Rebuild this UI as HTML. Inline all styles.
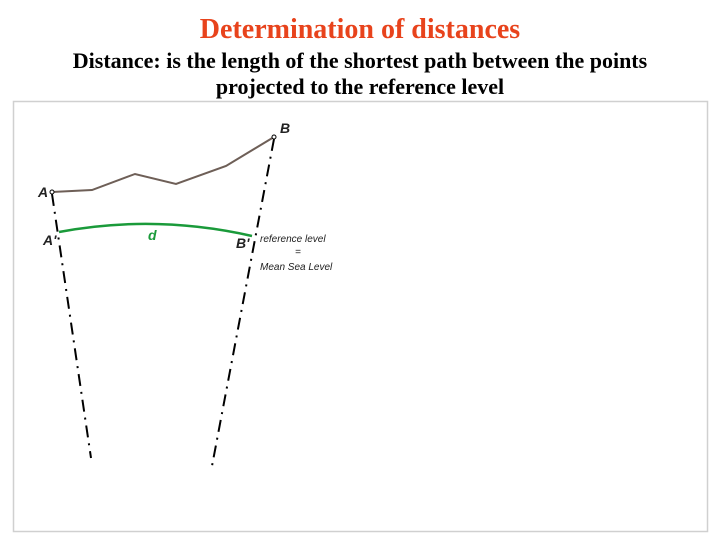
<!DOCTYPE html>
<html><head><meta charset="utf-8"><style>
body{margin:0;width:720px;height:540px;background:#fff;overflow:hidden;font-family:"Liberation Serif",serif}
.t{position:absolute;left:0;width:720px;text-align:center;font-weight:bold;white-space:nowrap}
</style></head><body>
<div class="t" style="top:14px;font-size:28px;line-height:32px;color:#e8431c">Determination of distances</div>
<div class="t" style="top:48px;font-size:22px;line-height:26px;color:#000">Distance: is the length of the shortest path between the points<br>projected to the reference level</div>
<svg width="720" height="540" style="position:absolute;left:0;top:0">
<rect x="13.5" y="101.5" width="694" height="430" fill="none" stroke="#d0d0d0" stroke-width="1.5"/>
<polyline points="52,192 92,190 135,174 176,184 226,166 274,137" fill="none" stroke="#6e5f57" stroke-width="2"/>
<line x1="52" y1="194" x2="91" y2="458" stroke="#000" stroke-width="2" stroke-dasharray="12,6,2,6"/>
<line x1="274" y1="139" x2="212" y2="466" stroke="#000" stroke-width="2" stroke-dasharray="12,6,2,6"/>
<path d="M59,232 Q155,214 252,236" fill="none" stroke="#1a9a3a" stroke-width="2.5"/>
<circle cx="52" cy="192" r="2" fill="#fff" stroke="#000"/>
<circle cx="274" cy="137" r="2" fill="#fff" stroke="#000"/>
<g font-family="Liberation Sans,sans-serif" font-style="italic" font-weight="bold" fill="#222">
<text x="38" y="197" font-size="14">A</text>
<text x="280" y="133" font-size="14">B</text>
<text x="43" y="245" font-size="14">A'</text>
<text x="236" y="248" font-size="14">B'</text>
<text x="148" y="240" font-size="14" fill="#1a9a3a">d</text>
<text x="260" y="242" font-size="10" font-weight="normal">reference level</text>
<text x="295" y="255" font-size="10" font-weight="normal">=</text>
<text x="260" y="270" font-size="10" font-weight="normal">Mean Sea Level</text>
</g>
</svg>
</body></html>
